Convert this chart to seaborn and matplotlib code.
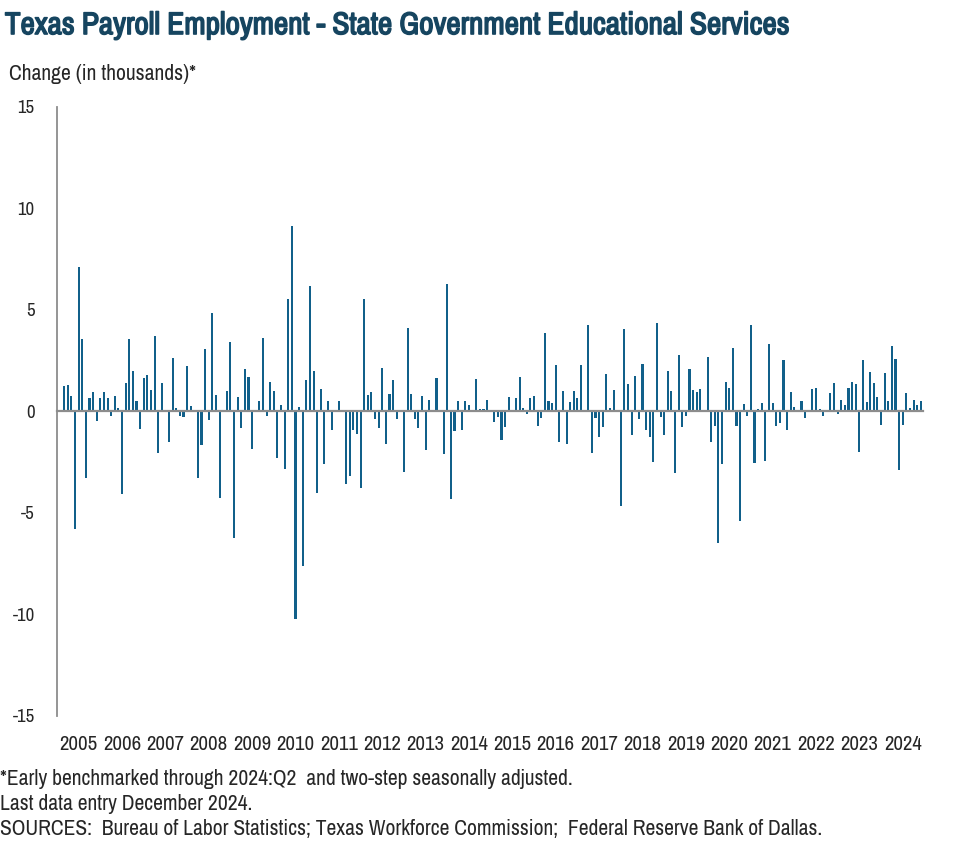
import numpy as np
import pandas as pd
import matplotlib
matplotlib.use("Agg")
import matplotlib.pyplot as plt
import matplotlib.transforms as mtransforms
import matplotlib.patheffects as pe
from matplotlib import font_manager
import seaborn as sns

# monthly change, Jan 2005 .. Dec 2024 (thousands)
v2005 = [0.0, 0.05, 1.25, 1.32, 0.77, -5.8, 7.13, 3.57, -3.26, 0.68, 0.98, -0.49]
v2006 = [0.68, 0.98, 0.64, -0.2, 0.78, 0.18, -4.05, 1.38, 3.57, 2.0, 0.5, -0.86]
v2007 = [1.64, 1.8, 1.07, 3.71, -2.03, 1.42, 0.0, -1.51, 2.64, 0.18, -0.2, -0.25]
v2008 = [2.23, 0.28, 0.0, -3.26, -1.66, 3.08, -0.4, 4.84, 0.83, -4.25, 0.0, 1.03]
v2009 = [3.42, -6.25, 0.73, -0.81, 2.1, 1.71, -1.86, 0.05, 0.54, 3.62, -0.2, 1.43]
v2010 = [1.03, -2.28, 0.34, -2.82, 5.52, 9.15, -10.2, 0.24, -7.6, 1.53, 6.17, 2.0]
v2011 = [-4.0, 1.12, -2.57, 0.54, -0.91, 0.0, 0.54, 0.02, -3.55, -3.16, -0.93, -1.12]
v2012 = [-3.75, 5.52, 0.83, 0.94, -0.39, -0.83, 2.15, -1.6, 0.85, 1.53, -0.39, 0.0]
v2013 = [-2.96, 4.1, 0.85, -0.37, -0.81, 0.78, -1.89, 0.59, 0.0, 1.66, 0.0, -2.1]
v2014 = [6.3, -4.33, -0.96, 0.5, -0.91, 0.5, 0.31, 0.0, 1.58, 0.11, 0.1, 0.55]
v2015 = [0.0, -0.54, -0.29, -1.4, -0.78, 0.73, 0.0, 0.64, 1.71, 0.18, -0.13, 0.64]
v2016 = [0.77, -0.73, -0.33, 3.86, 0.5, 0.44, 2.3, -1.51, 0.99, -1.6, 0.49, 0.99]
v2017 = [0.68, 2.31, 0.0, 4.25, -2.03, -0.33, -1.27, -0.78, 1.86, 0.18, 1.07, 0.02]
v2018 = [-4.64, 4.06, 1.37, -1.16, 1.76, -0.37, 2.35, -0.91, -1.27, -2.49, 4.35, -0.29]
v2019 = [-1.16, 1.99, 1.03, -3.03, 2.79, -0.78, -0.2, 2.08, 1.06, 0.96, 1.11, 0.0]
v2020 = [2.69, -1.51, -0.72, -6.48, -2.57, 1.47, 1.17, 3.13, -0.73, -5.41, 0.39, -0.2]
v2021 = [4.25, -2.52, 0.1, 0.44, -2.43, 3.32, 0.42, -0.73, -0.59, 2.54, -0.91, 0.98]
v2022 = [0.24, 0.0, 0.54, -0.33, 0.0, 1.12, 1.17, 0.1, -0.23, 0.0, 0.9, 1.38]
v2023 = [-0.1, 0.59, 0.34, 1.17, 1.47, 1.37, -2.0, 2.54, 0.49, 1.95, 1.42, 0.73]
v2024 = [-0.68, 1.91, 0.54, 3.24, 2.59, -2.87, -0.68, 0.93, 0.18, 0.59, 0.34, 0.54]

years = list(range(2005, 2025))
values = (v2005 + v2006 + v2007 + v2008 + v2009 + v2010 + v2011 + v2012 + v2013 + v2014
          + v2015 + v2016 + v2017 + v2018 + v2019 + v2020 + v2021 + v2022 + v2023 + v2024)
df = pd.DataFrame({"month": np.arange(len(values)), "change": values})

sns.set_style("white")
# look for a narrow/condensed face, otherwise fall back to DejaVu
cond = sorted({f.name for f in font_manager.fontManager.ttflist
               if "Narrow" in f.name or "Condensed" in f.name})
plt.rcParams["font.family"] = cond[:1] + ["DejaVu Sans"]
plt.rcParams["font.stretch"] = "condensed"

bar_color = "#11608a"
grey = "#8c8c8c"
title_color = "#164560"

fig = plt.figure(figsize=(9.77, 8.64), dpi=100)
ax = fig.add_axes([0.0583, 0.1713, 0.8864, 0.7049])
renderer = fig.canvas.get_renderer()


def fit(t, width_px, size):
    # scale a text so it spans about width_px
    t.set_fontsize(size)
    w = t.get_window_extent(renderer).width
    t.set_fontsize(min(size * width_px / w, size * 1.35))
    return t.get_fontsize()


sns.barplot(data=df, x="month", y="change", color=bar_color, saturation=1,
            width=0.58, linewidth=0, ax=ax)

ax.set_xlim(0, 239.6)
ax.set_ylim(-15, 15)
ax.set_yticks([-15, -10, -5, 0, 5, 10, 15])
ax.set_yticklabels(["-15", "-10", "-5", "0", "5", "10", "15"], fontsize=13.5)
ax.tick_params(axis="y", length=3, color=grey, pad=13, width=1)

for s in ["top", "right"]:
    ax.spines[s].set_visible(False)
ax.spines["left"].set_color(grey)
ax.spines["left"].set_linewidth(1.3)
ax.spines["bottom"].set_position(("data", 0))
ax.spines["bottom"].set_color(grey)
ax.spines["bottom"].set_linewidth(1.6)

ax.set_xticks([12 * k for k in range(len(years))])
ax.set_xticklabels([])
ax.tick_params(axis="x", length=5, color=grey, width=1.5, direction="out")

trans = mtransforms.blended_transform_factory(ax.transData, ax.transAxes)
for k, yr in enumerate(years):
    t = ax.text(12 * k + 6, -0.046, str(yr), transform=trans, ha="center", va="center")
    fit(t, 38, 13)

ax.set_xlabel("")
ax.set_ylabel("")

title = fig.text(0.005, 0.971, "Texas Payroll Employment - State Government Educational Services",
                 fontweight="bold", color=title_color, va="center",
                 path_effects=[pe.withStroke(linewidth=1.1, foreground=title_color)])
fit(title, 784, 20)
fit(fig.text(0.009, 0.914, "Change (in thousands)*", va="center"), 189, 13)

src = fig.text(0.0, 0.041, "SOURCES:  Bureau of Labor Statistics; Texas Workforce Commission;  Federal Reserve Bank of Dallas.",
               va="center")
note_size = fit(src, 828, 13)
fig.text(0.0, 0.098, "*Early benchmarked through 2024:Q2  and two-step seasonally adjusted.",
         va="center", fontsize=note_size)
fig.text(0.0, 0.070, "Last data entry December 2024.", va="center", fontsize=note_size)

fig.savefig("out.png", dpi=100)
